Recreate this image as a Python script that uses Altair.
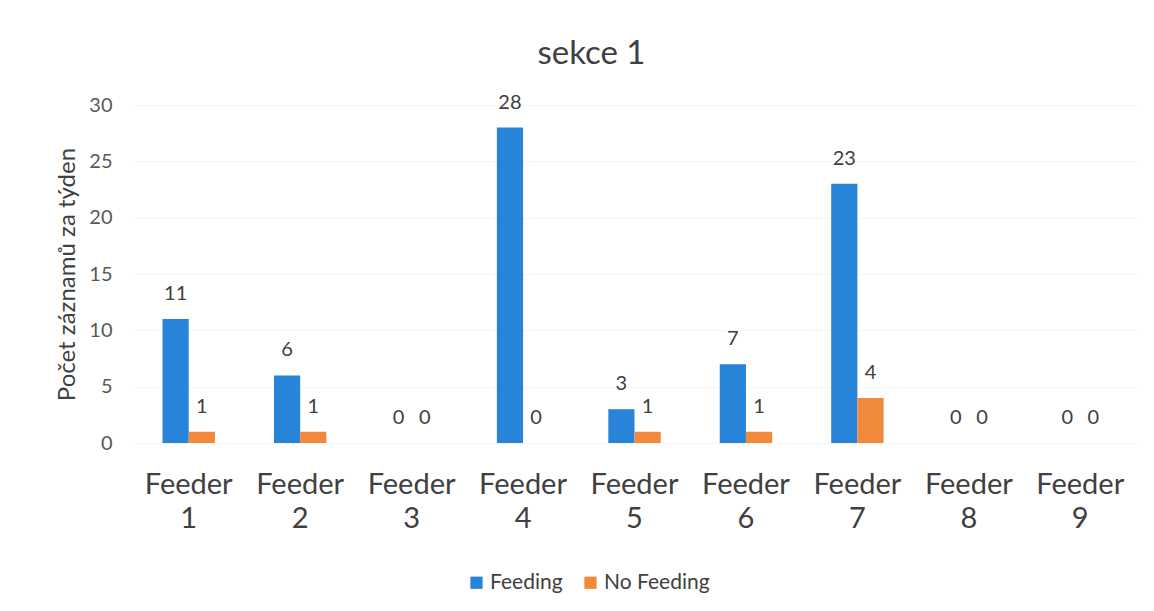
import altair as alt
import pandas as pd

# Weekly record counts per feeder, section 1
feeders = ["Feeder 1", "Feeder 2", "Feeder 3", "Feeder 4", "Feeder 5",
           "Feeder 6", "Feeder 7", "Feeder 8", "Feeder 9"]
feeding = [11, 6, 0, 28, 3, 7, 23, 0, 0]
no_feeding = [1, 1, 0, 0, 1, 1, 4, 0, 0]
series = ["Feeding", "No Feeding"]
colors = ["#2784d8", "#f08a3a"]

rows = []
for f, a, b in zip(feeders, feeding, no_feeding):
    rows.append({"feeder": f, "series": series[0], "value": a})
    rows.append({"feeder": f, "series": series[1], "value": b})
df = pd.DataFrame(rows)

FONT = "Lato"
TEXT = "#404040"

x_enc = alt.X(
    "feeder:N",
    sort=feeders,
    scale=alt.Scale(paddingInner=0.53, paddingOuter=0.265),
    axis=alt.Axis(
        title=None,
        labelExpr="split(datum.label, ' ')",
        labelAngle=0,
        labelFontSize=29,
        labelLineHeight=34,
        labelPadding=27,
        labelColor=TEXT,
        labelFont=FONT,
        ticks=False,
        domain=False,
        grid=False,
    ),
)
xoff = alt.XOffset("series:N", sort=series)

bars = alt.Chart(df).mark_bar().encode(
    x=x_enc,
    xOffset=xoff,
    y=alt.Y(
        "value:Q",
        scale=alt.Scale(domain=[0, 30], nice=False),
        axis=alt.Axis(
            title="Počet záznamů za týden",
            titleFont=FONT,
            titleFontSize=24,
            titleFontWeight="normal",
            titleColor=TEXT,
            titlePadding=9,
            values=[0, 5, 10, 15, 20, 25, 30],
            labelFontSize=20,
            labelColor="#595959",
            labelFont=FONT,
            labelPadding=21,
            ticks=False,
            domain=False,
            grid=True,
            gridColor="#f5f5f5",
        ),
    ),
    color=alt.Color(
        "series:N",
        sort=series,
        scale=alt.Scale(domain=series, range=colors),
        legend=alt.Legend(
            title=None,
            orient="none",
            direction="horizontal",
            legendX=333,
            legendY=467,
            symbolType="square",
            symbolSize=150,
            symbolStrokeWidth=0,
            labelFontSize=21,
            labelFont=FONT,
            labelColor=TEXT,
            columnPadding=17,
            labelOffset=3,
        ),
    ),
)

labels = alt.Chart(df).mark_text(
    baseline="bottom", dy=-15, fontSize=20, font=FONT, color=TEXT
).encode(
    x=alt.X("feeder:N", sort=feeders),
    xOffset=xoff,
    y="value:Q",
    text="value:Q",
)

chart = (
    alt.layer(bars, labels)
    .properties(
        width=1003,
        height=338,
        background="white",
        autosize=alt.AutoSizeParams(type="none"),
        padding={"left": 133, "top": 105, "right": 18, "bottom": 168},
        title=alt.TitleParams(
            "sekce 1",
            fontSize=33,
            font=FONT,
            fontWeight="normal",
            color=TEXT,
            anchor="middle",
            dx=-43,
            offset=22,
        ),
    )
    .configure_view(strokeWidth=0)
)

chart.save("out.html", embed_options={"renderer": "svg", "actions": False})
